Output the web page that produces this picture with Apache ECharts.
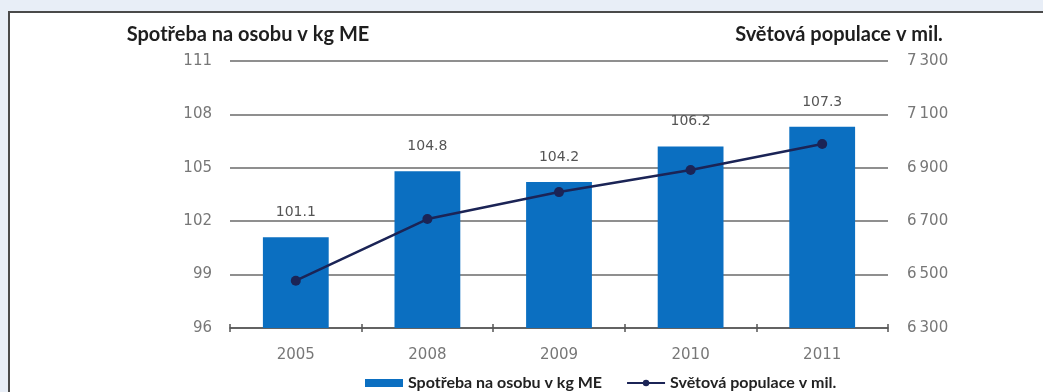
<!DOCTYPE html>
<html>
<head>
<meta charset="utf-8">
<script src="https://cdn.jsdelivr.net/npm/echarts@6/dist/echarts.min.js"></script>
<style>
  html, body { margin: 0; padding: 0; }
  body { width: 1043px; height: 392px; background: #e8eef7; position: relative; overflow: hidden; }
  #panel { position: absolute; left: 8px; top: 11px; right: 0; bottom: 0;
           background: #ffffff; border-left: 2px solid #4a4a4a; border-top: 2px solid #4a4a4a; }
  #chart { position: absolute; left: 0; top: 0; width: 1043px; height: 392px; }
</style>
</head>
<body>
<div id="panel"></div>
<div id="chart"></div>
<script>
// Roky
const years = ['2005', '2008', '2009', '2010', '2011'];
// Spotřeba masa na osobu (kg ME)
const consumption = [101.1, 104.8, 104.2, 106.2, 107.3];
// Světová populace (mil.)
const population = [6477, 6708, 6809, 6892, 6989];

const seriesNames = ['Spotřeba na osobu v kg ME', 'Světová populace v mil.'];
const axisTitles = ['Spotřeba na osobu v kg ME', 'Světová populace v mil.'];

const barColor = '#0b6fc1';
const lineColor = '#1b2456';
const gridColor = '#6a6a6a';
const tickFont = 'DejaVu Sans';

function thousands(v) {
  return String(v).replace(/\B(?=(\d{3})+(?!\d))/g, '\u2009');
}

const chart = echarts.init(document.getElementById('chart'), null, { renderer: 'canvas' });

chart.setOption({
  backgroundColor: 'transparent',
  animation: false,
  grid: { left: 230, right: 155, top: 61, bottom: 64, containLabel: false },
  graphic: [
    {
      type: 'text', x: 248, y: 35,
      style: { text: axisTitles[0], font: 'bold 20px Lato', fill: '#1e1e1e', align: 'center', verticalAlign: 'middle' }
    },
    {
      type: 'text', x: 839, y: 35,
      style: { text: axisTitles[1], font: 'bold 20px Lato', fill: '#1e1e1e', align: 'center', verticalAlign: 'middle' }
    }
  ],
  legend: {
    left: 360, top: 370,
    itemWidth: 38, itemHeight: 8, itemGap: 24,
    textStyle: { fontFamily: 'Lato', fontWeight: 'bold', fontSize: 16, color: '#222' },
    data: [
      { name: seriesNames[0], icon: 'rect' },
      { name: seriesNames[1] }
    ]
  },
  xAxis: [
    {
      type: 'category', data: years, position: 'bottom',
      axisLine: { lineStyle: { color: '#555', width: 1.5 } },
      axisTick: { show: true, length: 4, lineStyle: { color: '#555', width: 1.5 } },
      axisLabel: { fontFamily: tickFont, fontSize: 15, color: '#777', margin: 20 }
    },
    {
      type: 'category', data: years, position: 'bottom',
      axisLine: { show: false },
      axisTick: { show: true, inside: true, length: 4, lineStyle: { color: '#555', width: 1.5 } },
      axisLabel: { show: false }
    }
  ],
  yAxis: [
    {
      type: 'value', min: 96, max: 111, interval: 3,
      axisLine: { show: false }, axisTick: { show: false },
      axisLabel: { fontFamily: tickFont, fontSize: 15, color: '#777', margin: 18 },
      splitLine: { show: true, lineStyle: { color: gridColor, width: 1.5 } }
    },
    {
      type: 'value', min: 6300, max: 7300, interval: 200, position: 'right',
      axisLine: { show: false }, axisTick: { show: false },
      axisLabel: { fontFamily: tickFont, fontSize: 15, color: '#777', margin: 19, formatter: thousands },
      splitLine: { show: false }
    }
  ],
  series: [
    {
      name: seriesNames[0], type: 'bar', data: consumption,
      xAxisIndex: 0, yAxisIndex: 0, barWidth: '50%',
      itemStyle: { color: barColor },
      label: {
        show: true, position: 'top', distance: 18,
        fontFamily: tickFont, fontSize: 14, color: '#555',
        formatter: p => p.value.toFixed(1)
      }
    },
    {
      name: seriesNames[1], type: 'line', data: population,
      xAxisIndex: 0, yAxisIndex: 1,
      symbol: 'circle', symbolSize: 10,
      lineStyle: { color: lineColor, width: 2.5 },
      itemStyle: { color: lineColor }
    }
  ]
});
</script>
</body>
</html>
